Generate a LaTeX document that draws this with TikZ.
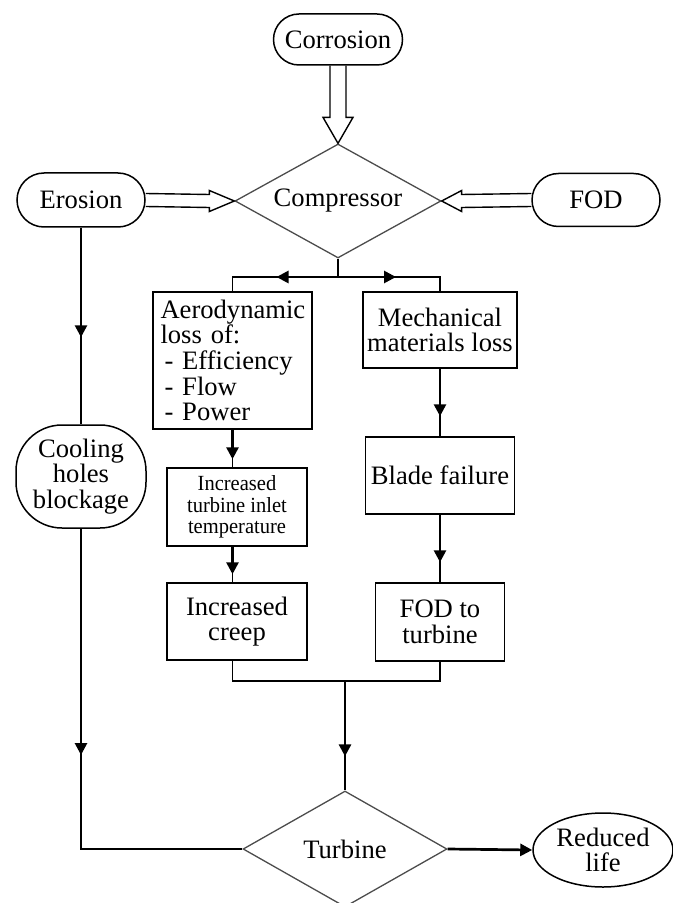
\documentclass[tikz,border=0pt]{standalone}
\usepackage{fontspec}
\setmainfont{Liberation Serif}
\newfontfamily\condserif[FakeStretch=0.95]{Liberation Serif}
\usetikzlibrary{arrows.meta,shapes.geometric,calc}

\begin{document}
\begin{tikzpicture}[x=0.5pt, y=-0.5pt, line width=0.65pt,
      font=\fontsize{13.3pt}{12.8pt}\selectfont,
      box/.style={draw, align=center, inner xsep=1pt, inner ysep=1pt, line width=0.75pt},
      stad/.style={box, rounded corners=#1},
      cond/.style={draw=black!70, diamond, aspect=1.8, inner sep=0pt, line width=0.65pt},
      hollow/.style={draw, line width=0.7pt, line join=miter},
      flow/.style={line width=1.35pt, -{Triangle[length=6pt, width=6pt]}}]
      \useasboundingbox (0,0) rectangle (673,903);
      % sources and compressor
      \node[stad=12.75pt, minimum width=64.5pt, minimum height=25.5pt] (corr) at (338,39.5) {Corrosion};
      \node[stad=13.5pt, minimum width=64pt, minimum height=27pt] (ero) at (81,200) {Erosion};
      \node[stad=13.25pt, minimum width=64pt, minimum height=26.5pt] (fod) at (596,200) {FOD};
      \node[cond, minimum width=103pt, minimum height=57pt] (comp) at (338,201) {Compressor};
      % two branches
      \node[box, text width=72pt, align=left, inner xsep=3.75pt, minimum height=68.5pt] (aero) at (232.5,360.5)
            {Aerodynamic\\loss of:\\\hspace*{2pt}- Efficiency\\\hspace*{2pt}- Flow\\\hspace*{2pt}- Power};
      \node[box, minimum width=77pt, minimum height=38pt] (mech) at (440,330) {Mechanical\\materials loss};
      \node[box, minimum width=70pt, minimum height=39pt, font=\condserif\fontsize{10.8pt}{10.8pt}\selectfont] (tit) at (237,507)
            {Increased\\turbine inlet\\temperature};
      \node[box, minimum width=70pt, minimum height=38.5pt] (creep) at (237,621.5) {Increased\\creep};
      \node[box, minimum width=74.5pt, minimum height=38.5pt] (blade) at (440,475.5) {Blade failure};
      \node[box, minimum width=64.5pt, minimum height=39pt] (fodt) at (440,622) {FOD to\\turbine};
      \node[stad=23pt, minimum width=65pt, minimum height=51.5pt] (cool) at (81,476.5) {Cooling\\holes\\blockage};
      % turbine
      \node[cond, minimum width=102pt, minimum height=58pt] (turb) at (345,849) {Turbine};
      \node[draw, ellipse, align=center, inner sep=0pt, line width=0.75pt, minimum width=70pt, minimum height=37pt] (life) at (603,850) {Reduced\\life};
      \coordinate (split) at (338,277);
      \coordinate (merge) at (345,681);
      % hollow inputs
      \draw[hollow] ($(corr.south -| comp.north)+(-8,0)$) -- ($(comp.north)+(-8,-26)$) -- ++(-7,0) -- (comp.north)
            -- ++(15,-26) -- ++(-7,0) -- ($(corr.south -| comp.north)+(8,0)$);
      \draw[hollow] ($(ero.east)+(0,-6.5)$) -- ($(comp.west)+(-25,-6.5)$) -- ++(0,-4) -- (comp.west)
            -- ++(-25,10.5) -- ++(0,-4) -- ($(ero.east)+(0,6.5)$);
      \draw[hollow] ($(fod.west)+(0,-6.5)$) -- ($(comp.east)+(20,-6.5)$) -- ++(0,-4) -- (comp.east)
            -- ++(20,10.5) -- ++(0,-4) -- ($(fod.west)+(0,6.5)$);
      % connectors
      \draw (comp.south) -- (split);
      \draw (aero.north) |- (split) -| (mech.north);
      \draw[flow, shorten <=13.5pt, shorten >=22pt] (split) -- (split -| aero.north);
      \draw[flow, shorten <=13.5pt, shorten >=22pt] (split) -- (split -| mech.north);
      \draw (aero.south) -- (aero.south |- tit.north);
      \draw[flow, shorten >=4pt] (aero.south) -- (aero.south |- tit.north);
      \draw (tit.south -| aero.south) -- (creep.north -| aero.south);
      \draw[flow, shorten >=4pt] (tit.south -| aero.south) -- (creep.north -| aero.south);
      \draw (mech.south) -- (blade.north);
      \draw[flow, shorten <=7.5pt, shorten >=10pt] (mech.south) -- (blade.north);
      \draw (blade.south) -- (fodt.north);
      \draw[flow, shorten <=8pt, shorten >=10pt] (blade.south) -- (fodt.north);
      \draw (creep.south -| aero.south) |- (merge) -| (fodt.south);
      \draw (merge) -- (turb.north);
      \draw[flow, shorten <=24.5pt, shorten >=17pt] (merge) -- (turb.north);
      \draw (ero.south) -- (cool.north);
      \draw[flow, shorten <=39pt, shorten >=43.5pt] (ero.south) -- (cool.north);
      \draw (cool.south) |- (turb.west);
      \draw[flow, shorten <=97pt, shorten >=47pt] (cool.south) -- (cool.south |- turb.west);
      \draw[flow] (turb.east) -- (life.west);
\end{tikzpicture}
\end{document}
